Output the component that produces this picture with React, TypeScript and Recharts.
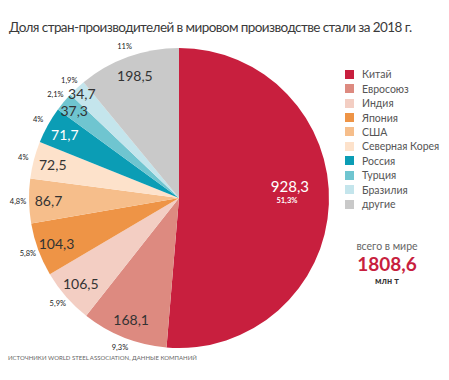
import { PieChart, Pie, Cell } from "recharts";

const countries = ["Китай", "Евросоюз", "Индия", "Япония", "США", "Северная Корея", "Россия", "Турция", "Бразилия", "другие"];
const output = [928.3, 168.1, 106.5, 104.3, 86.7, 72.5, 71.7, 37.3, 34.7, 198.5];
const shares = ["51,3%", "9,3%", "5,9%", "5,8%", "4,8%", "4%", "4%", "2,1%", "1,9%", "11%"];
const colors = ["#c81f3e", "#dd8a80", "#f3cec3", "#ee9446", "#f6be8b", "#fde2cb", "#0b9db5", "#6fc5d0", "#c4e5ec", "#c9c9c9"];
const total = "1808,6";

const data = countries.map((name, i) => ({ name, value: output[i] }));

const RAD = Math.PI / 180;
const FONT = "Lato, 'Open Sans', sans-serif";

function renderLabel(props: any) {
  const { cx, cy, midAngle, outerRadius, index } = props;
  const main = index === 0;
  // thin slices near the top get their numbers pushed a bit outward
  const k = main ? 0.74 : index === 8 ? 0.95 : index === 7 ? 0.91 : 0.87;
  const r1 = outerRadius * k;
  const r2 = outerRadius + 11;
  const cos = Math.cos(-midAngle * RAD);
  const sin = Math.sin(-midAngle * RAD);
  const x1 = cx + r1 * cos;
  const y1 = cy + r1 * sin - (main ? 17 : 0);
  const light = index === 0 || index === 6;
  const text = output[index].toFixed(1).replace(".", ",");
  return (
    <g>
      <text x={x1} y={y1} textAnchor="middle" dominantBaseline="central" fill={light ? "#fff" : "#333"} fontSize={main ? 15 : 14} fontFamily={FONT}>
        {text}
      </text>
      {main ? (
        <text x={x1 - 3} y={y1 + 15} textAnchor="middle" dominantBaseline="central" fill="#fff" fontSize={7.5} fontWeight="bold" fontFamily={FONT}>
          {shares[index]}
        </text>
      ) : (
        <text x={cx + r2 * cos} y={cy + r2 * sin} textAnchor="middle" dominantBaseline="central" fill="#222" fontSize={7.5} fontFamily={FONT}>
          {shares[index]}
        </text>
      )}
    </g>
  );
}

export default function App() {
  return (
    <div style={{ position: "absolute", left: 0, top: 0, width: 449, height: 380, background: "#fff", fontFamily: FONT }}>
      <div style={{ position: "absolute", left: 9, top: 19, fontSize: 13.5, color: "#3a3a3a", whiteSpace: "nowrap", letterSpacing: -0.58 }}>
        Доля стран-производителей в мировом производстве стали за 2018 г.
      </div>
      <PieChart width={449} height={380}>
        <Pie
          data={data}
          dataKey="value"
          cx={174}
          cy={193}
          outerRadius={150}
          startAngle={90}
          endAngle={-270}
          stroke="none"
          labelLine={false}
          label={renderLabel}
          isAnimationActive={false}
        >
          {data.map((d, i) => (
            <Cell key={d.name} fill={colors[i]} />
          ))}
        </Pie>
      </PieChart>
      <div style={{ position: "absolute", left: 345, top: 67 }}>
        {countries.map((c, i) => (
          <div key={c} style={{ display: "flex", alignItems: "center", height: 14.45, fontSize: 10.5, color: "#555" }}>
            <span style={{ width: 9, height: 9, background: colors[i], marginRight: 8 }} />
            {c}
          </div>
        ))}
      </div>
      <div style={{ position: "absolute", left: 337, top: 239, width: 100, textAlign: "center" }}>
        <div style={{ fontSize: 10.5, color: "#666", lineHeight: "15px" }}>всего в мире</div>
        <div style={{ fontSize: 19, color: "#c81f3e", fontWeight: "bold", lineHeight: "20px" }}>{total}</div>
        <div style={{ fontSize: 9, color: "#333", fontWeight: "bold", lineHeight: "14px" }}>млн т</div>
      </div>
      <div style={{ position: "absolute", left: 8, top: 354, fontSize: 6, color: "#666", whiteSpace: "nowrap" }}>
        ИСТОЧНИКИ WORLD STEEL ASSOCIATION, ДАННЫЕ КОМПАНИЙ
      </div>
    </div>
  );
}
